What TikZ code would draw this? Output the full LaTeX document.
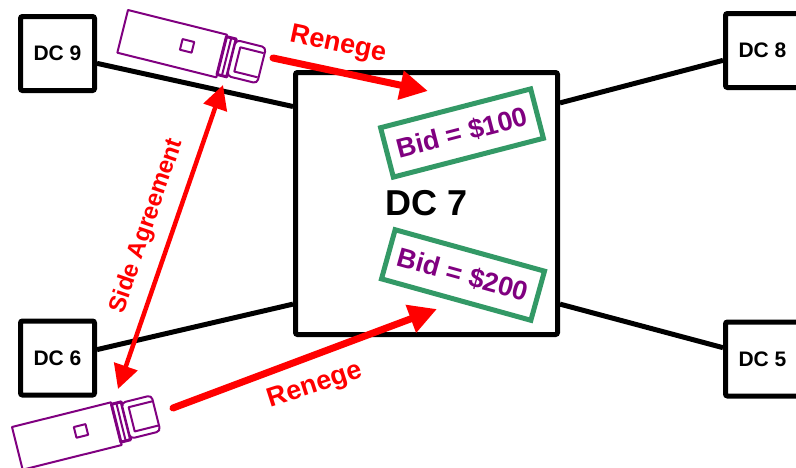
\documentclass[tikz,border=0pt]{standalone}
\usepackage{fontspec}
\setmainfont{Liberation Sans}
\usepackage{tikz}
\usetikzlibrary{arrows.meta,positioning}
\definecolor{dcred}{RGB}{255,0,0}
\definecolor{dcpurple}{RGB}{128,0,128}
\definecolor{dcgreen}{RGB}{51,153,102}
\tikzstyle{dcbox} = [draw, line width=5pt, rounded corners=2pt, minimum size=74pt, inner sep=0pt, font=\bfseries\fontsize{21}{21}\selectfont]
\tikzstyle{link} = [line width=5pt]
\tikzstyle{bid} = [draw=dcgreen, line width=5pt, minimum width=155pt, minimum height=51pt, inner sep=2pt, text=dcpurple, font=\bfseries\fontsize{27}{27}\selectfont]
\tikzstyle{lbl} = [text=dcred, font=\bfseries\fontsize{27}{27}\selectfont]
\tikzstyle{renege} = [line width=7pt, line cap=round, -{Triangle[length=28pt,width=28pt]}, color=dcred]
\tikzstyle{agree} = [line width=4.5pt, {Triangle[length=24pt,width=24pt]}-{Triangle[length=24pt,width=24pt]}, color=dcred]
\tikzstyle{truck} = [draw=dcpurple, fill=white, line width=2pt, line join=round]

\begin{document}
\begin{tikzpicture}[x=1pt, y=-1pt]
\useasboundingbox (0,0) rectangle (796,467);
\clip (0,0) rectangle (796,467);

% Data centres
\node[dcbox, minimum size=262pt, font=\bfseries\fontsize{36}{36}\selectfont] (dc7) at (426.5,203.5) {DC 7};
\node[dcbox] (dc9) at (57.5,53.5) {DC 9};
\node[dcbox] (dc6) at (57.5,358) {DC 6};
\node[dcbox] (dc8) at (762.5,50.5) {DC 8};
\node[dcbox] (dc5) at (762.5,359) {DC 5};

% Links to DC 7
\draw[link] (dc9.-14) -- (dc7.144);
\draw[link] (dc6.12) -- (dc7.217);
\draw[link] (dc7.37) -- (dc8.194);
\draw[link] (dc7.-37) -- (dc5.164);

% Bids
\node[bid, rotate=14.5] (bid100) at (462,133) {Bid = \$100};
\node[bid, rotate=-15.5] (bid200) at (463,275) {Bid = \$200};

% Trucks
\foreach \tx/\ty/\ang in {128/10/-14, 12/427/14} {
  \begin{scope}[shift={(\tx,\ty)}, rotate=\ang, truck]
    \filldraw (0,0) rectangle (102,44);
    \draw (60,15) rectangle (72,26);
    \filldraw[line width=3pt] (102,2) rectangle (112,41);
    \draw (107,3) -- (107,40);
    \filldraw[rounded corners=4pt] (112,3) rectangle (143,40);
    \draw (142,9) -- (118,9) -- (118,34) -- (142,34);
  \end{scope}
}

% Arrows
\coordinate (t9front) at (273,58);
\coordinate (b100tip) at (428,91);
\coordinate (t6front) at (173,408);
\coordinate (b200tip) at (437,309);
\coordinate (t9side) at (223,85);
\coordinate (t6side) at (118,389);
\draw[renege] (t9front) -- (b100tip);
\draw[renege] (t6front) -- (b200tip);
\draw[agree] (t6side) -- (t9side);

% Labels
\node[lbl, rotate=-12] (reneg9) at (338,45) {Renege};
\node[lbl, rotate=18] (reneg6) at (315,386) {Renege};
\node[lbl, rotate=71, font=\bfseries\fontsize{24}{24}\selectfont] (side) at (147,226) {Side Agreement};
\end{tikzpicture}
\end{document}
